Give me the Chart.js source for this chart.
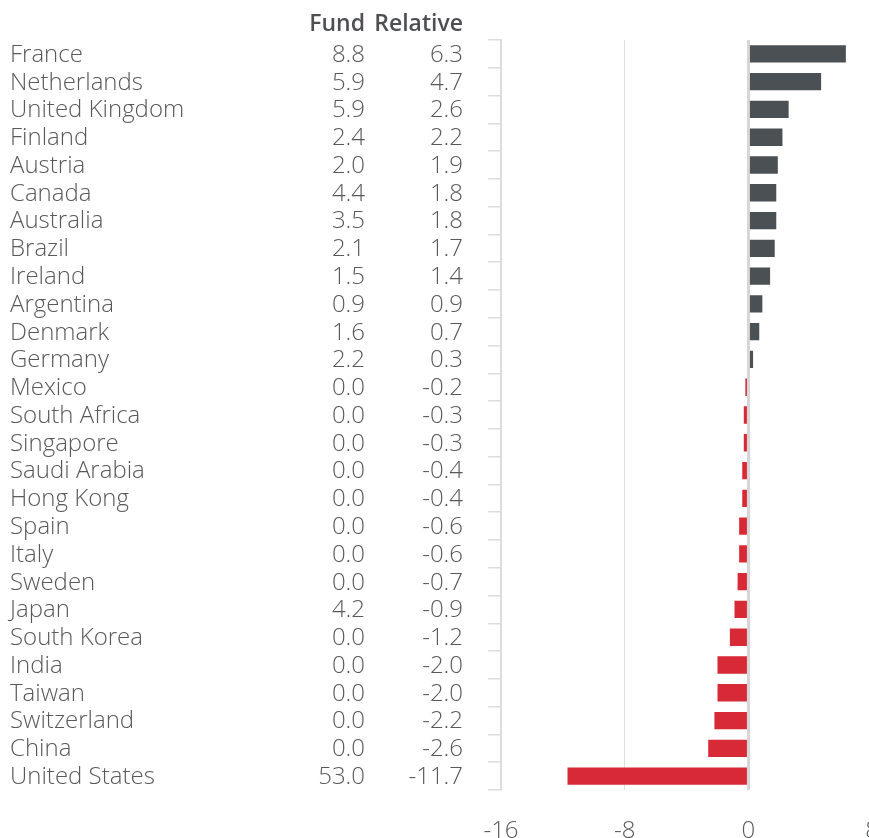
<!DOCTYPE html>
<html>
<head>
<meta charset="utf-8">
<title>Country allocation - relative weights</title>
<script src="https://cdn.jsdelivr.net/npm/chart.js@4.4.1/dist/chart.umd.min.js"></script>
<style>
    html, body { margin: 0; padding: 0; background: #fff; overflow: hidden; }
    #wrap { position: relative; width: 906px; height: 838px; }
</style>
</head>
<body>
<div id="wrap"><canvas id="relChart"></canvas></div>
<script>
// Table data
const countries = ['France', 'Netherlands', 'United Kingdom', 'Finland', 'Austria', 'Canada', 'Australia',
    'Brazil', 'Ireland', 'Argentina', 'Denmark', 'Germany', 'Mexico', 'South Africa', 'Singapore',
    'Saudi Arabia', 'Hong Kong', 'Spain', 'Italy', 'Sweden', 'Japan', 'South Korea', 'India', 'Taiwan',
    'Switzerland', 'China', 'United States'];
const fundWeights = [8.8, 5.9, 5.9, 2.4, 2.0, 4.4, 3.5, 2.1, 1.5, 0.9, 1.6, 2.2, 0.0, 0.0, 0.0,
    0.0, 0.0, 0.0, 0.0, 0.0, 4.2, 0.0, 0.0, 0.0, 0.0, 0.0, 53.0];
const relativeWeights = [6.3, 4.7, 2.6, 2.2, 1.9, 1.8, 1.8, 1.7, 1.4, 0.9, 0.7, 0.3, -0.2, -0.3, -0.3,
    -0.4, -0.4, -0.6, -0.6, -0.7, -0.9, -1.2, -2.0, -2.0, -2.2, -2.6, -11.7];
const xTicks = [-16, -8, 0, 8];
const columnHeaders = ['Fund', 'Relative'];

const textColor = '#58595b';
const positiveColor = '#4b5055';
const negativeColor = '#d72a36';

/**
 * Draws the country / Fund / Relative table left of the plot
 */
const tablePlugin = {
    id: 'tableText',
    afterDraw(chart) {
        const ctx = chart.ctx;
        const yScale = chart.scales.y;
        ctx.save();
        ctx.textBaseline = 'middle';

        // header
        ctx.font = '600 23px "Open Sans"';
        ctx.fillStyle = '#4d4f52';
        ctx.textAlign = 'right';
        ctx.fillText(columnHeaders[0], 365, 24);
        ctx.fillText(columnHeaders[1], 463, 24);

        ctx.font = '300 24px "Open Sans"';
        ctx.fillStyle = textColor;
        countries.forEach((name, i) => {
            const y = yScale.getPixelForValue(i) + 1;
            ctx.textAlign = 'left';
            ctx.fillText(name, 10, y);
            ctx.textAlign = 'right';
            ctx.fillText(fundWeights[i].toFixed(1), 365, y);
            ctx.fillText(relativeWeights[i].toFixed(1), 463, y);
        });
        ctx.restore();
    }
};

const ctx = document.getElementById('relChart').getContext('2d');
const relChart = new Chart(ctx, {
    type: 'bar',
    data: {
        labels: countries,
        datasets: [{
            data: relativeWeights,
            backgroundColor: relativeWeights.map(v => v >= 0 ? positiveColor : negativeColor),
            barPercentage: 0.8,
            categoryPercentage: 0.78,
            borderWidth: 0
        }]
    },
    options: {
        indexAxis: 'y',
        responsive: true,
        maintainAspectRatio: false,
        animation: false,
        layout: { padding: { top: 40, left: 0, right: 0, bottom: 0 } },
        plugins: {
            legend: { display: false },
            tooltip: { enabled: false }
        },
        scales: {
            x: {
                min: xTicks[0],
                max: xTicks[xTicks.length - 1],
                afterBuildTicks: scale => { scale.ticks = xTicks.map(v => ({ value: v })); },
                afterFit: scale => { scale.height = 48; },
                border: { display: false },
                grid: {
                    drawTicks: false,
                    color: c => c.tick && c.tick.value === 0 ? '#d6d6d6' : '#dedede',
                    lineWidth: c => c.tick && c.tick.value === 0 ? 3 : 1
                },
                ticks: {
                    padding: 27,
                    color: textColor,
                    font: { family: 'Open Sans', size: 24, weight: '300' }
                }
            },
            y: {
                afterFit: scale => { scale.width = 501; },
                border: { display: true, color: '#dcdcdc', width: 2 },
                grid: {
                    drawOnChartArea: false,
                    drawTicks: true,
                    tickLength: 13,
                    color: '#dcdcdc',
                    lineWidth: 1.5
                },
                ticks: { display: false }
            }
        }
    },
    plugins: [tablePlugin]
});
</script>
</body>
</html>
